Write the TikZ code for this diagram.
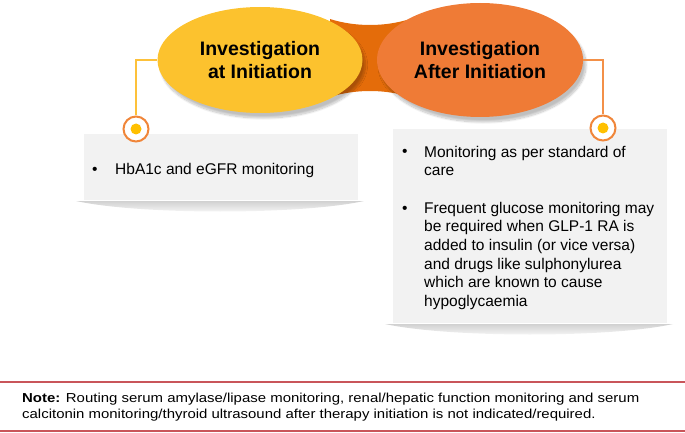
\documentclass[tikz,border=0pt]{standalone}
\usepackage{fontspec}
\setmainfont{Liberation Sans}
\newfontfamily\notefont[FakeStretch=1.15]{Liberation Sans}
\usetikzlibrary{shadows.blur,shapes.geometric}
\definecolor{yel}{HTML}{FCC22E}
\definecolor{ora}{HTML}{EF7B36}
\definecolor{band}{HTML}{E46C0A}
\definecolor{yline}{HTML}{FDC13A}
\definecolor{oline}{HTML}{F39048}
\definecolor{ring}{HTML}{F0863A}
\definecolor{dot}{HTML}{FFC000}
\definecolor{boxg}{HTML}{F2F2F2}
\definecolor{notered}{HTML}{C9555A}
\tikzset{
  bubble/.style={ellipse, inner sep=0pt, font=\fontsize{19.5}{23}\selectfont\bfseries, align=center, text=black,
    blur shadow={shadow xshift=3pt, shadow yshift=-5pt, shadow blur steps=12, shadow opacity=25}},
  ringnode/.style={circle, draw=ring, line width=2pt, fill=white, minimum size=25pt, inner sep=0pt},
  boxtext/.style={font=\fontsize{15.5}{18.7}\selectfont, inner sep=0pt, anchor=base west, align=left},
  notetext/.style={font=\notefont\fontsize{13}{16}\selectfont, inner sep=0pt, anchor=base west},
  conn/.style={line width=1.6pt},
}
\begin{document}
\begin{tikzpicture}[x=1pt,y=-1pt]
\useasboundingbox (0,0) rectangle (685,433);
% band between ellipses
\fill[band] (330,19) .. controls (355,27) and (385,27) .. (410,19) -- (410,97) .. controls (385,89) and (355,89) .. (330,97) -- cycle;
% ellipses
\node[bubble, fill=ora, minimum width=206pt, minimum height=114pt] (O) at (480,60) {Investigation\\After Initiation};
\node[bubble, fill=yel, minimum width=205pt, minimum height=106pt] (Y) at (260,60) {Investigation\\at Initiation};
% box shadows
\shade[top color=black!18, bottom color=white] (76,201) -- (364,201) .. controls (300,215) and (140,215) .. (76,201) -- cycle;
\shade[top color=black!18, bottom color=white] (385,324) -- (673,324) .. controls (610,338) and (450,338) .. (385,324) -- cycle;
% boxes
\node[fill=boxg, draw=white, line width=0.8pt, minimum width=275pt, minimum height=67pt, inner sep=0pt, anchor=north west] (B1) at (83,133) {};
\node[fill=boxg, draw=white, line width=0.8pt, minimum width=275pt, minimum height=195pt, inner sep=0pt, anchor=north west] (B2) at (392,128) {};
% rings
\node[ringnode] (c1) at (136,129) {};
\node[ringnode] (c2) at (603,128) {};
\fill[dot] (c1.center) circle (5.5pt);
\fill[dot] (c2.center) circle (5.5pt);
% connectors
\draw[conn, yline] (Y.west) -| (c1.north);
\draw[conn, oline] (O.east) -| (c2.north);
% box texts (base anchor = baseline of last line)
\node[boxtext] (b1) at (92,174) {•};
\node[boxtext] (t1) at (115,174) {HbA1c and eGFR monitoring};
\node[boxtext] (b2) at (402,157) {•};
\node[boxtext] (t2) at (424,175.7) {Monitoring as per standard of\\care};
\node[boxtext] (b3) at (402,213) {•};
\node[boxtext] (t3) at (424,306.5) {Frequent glucose monitoring may\\be required when GLP-1 RA is\\added to insulin (or vice versa)\\and drugs like sulphonylurea\\which are known to cause\\hypoglycaemia};
% note
\coordinate (l1a) at (0,382); \coordinate (l1b) at (685,382);
\coordinate (l2a) at (0,431); \coordinate (l2b) at (685,431);
\draw[notered, line width=1.8pt] (l1a) -- (l1b);
\draw[notered, line width=1.8pt] (l2a) -- (l2b);
\node[notetext] (n1) at (22,402) {\textbf{Note:} Routing serum amylase/lipase monitoring, renal/hepatic function monitoring and serum};
\node[notetext] (n2) at (22,418) {calcitonin monitoring/thyroid ultrasound after therapy initiation is not indicated/required.};
\end{tikzpicture}
\end{document}
